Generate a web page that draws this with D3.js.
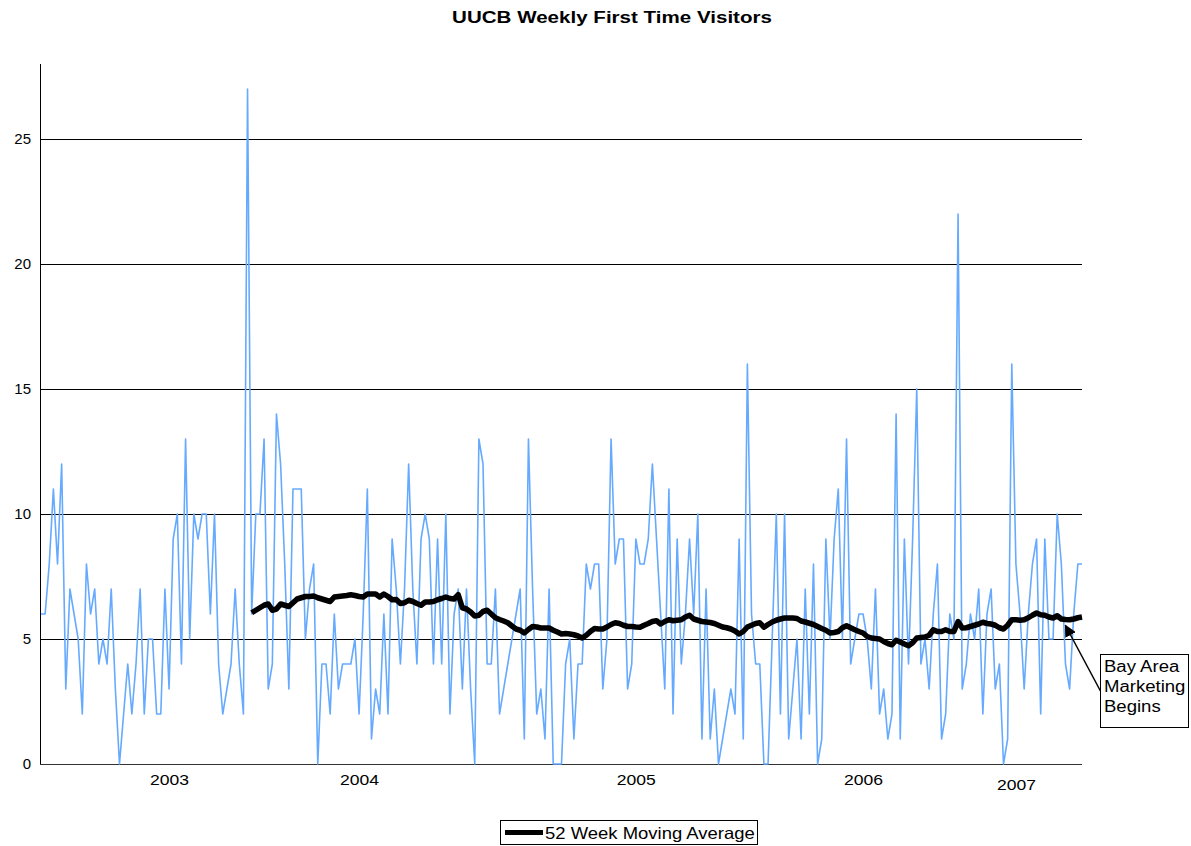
<!DOCTYPE html>
<html>
<head>
<meta charset="utf-8">
<script src="https://cdn.jsdelivr.net/npm/d3@7/dist/d3.min.js"></script>
<style>
    body { margin: 0; background: #fff; }
    text { font-family: "Liberation Sans", Arial, sans-serif; }
</style>
</head>
<body>
<div id="chart"></div>
<script>
//----------------------------
// Data
//----------------------------

// weekly first time visitors, one value per week
var visitors = [
    6, 6, 8, 11, 8, 12, 3, 7, 6, 5,
    2, 8, 6, 7, 4, 5, 4, 7, 3, 0,
    2, 4, 2, 4, 7, 2, 5, 5, 2, 2,
    7, 3, 9, 10, 4, 13, 5, 10, 9, 10,
    10, 6, 10, 4, 2, 3, 4, 7, 4, 2,
    27, 6, 10, 10, 13, 3, 4, 14, 12, 8,
    3, 11, 11, 11, 5, 7, 8, 0, 4, 4,
    2, 6, 3, 4, 4, 4, 5, 2, 6, 11,
    1, 3, 2, 6, 2, 9, 7, 4, 7, 12,
    7, 4, 9, 10, 9, 4, 9, 4, 10, 2,
    6, 7, 3, 7, 3, 0, 13, 12, 4, 4,
    7, 2, 3, 4, 5, 6, 7, 1, 13, 7,
    2, 3, 1, 7, 0, 0, 0, 4, 5, 1,
    4, 4, 8, 7, 8, 8, 3, 5, 13, 8,
    9, 9, 3, 4, 9, 8, 8, 9, 12, 9,
    6, 3, 11, 2, 9, 4, 6, 9, 6, 10,
    1, 7, 1, 3, 0, 1, 2, 3, 2, 9,
    1, 16, 6, 4, 4, 0, 0, 5, 10, 2,
    10, 1, 3, 5, 1, 7, 2, 8, 0, 1,
    9, 5, 9, 11, 5, 13, 4, 5, 6, 6,
    5, 3, 7, 2, 3, 1, 2, 14, 1, 9,
    4, 9, 15, 4, 5, 3, 6, 8, 1, 2,
    6, 5, 22, 3, 4, 6, 5, 7, 2, 6,
    7, 3, 4, 0, 1, 16, 8, 6, 3, 6,
    8, 9, 2, 9, 5, 5, 10, 8, 4, 3,
    6, 8, 8
];

// 52 week moving average, first value at week 51
var avgStartWeek = 51;
var movingAvg = [
    6.05, 6.15, 6.25, 6.35, 6.4, 6.15, 6.2, 6.4, 6.35, 6.3,
    6.45, 6.6, 6.65, 6.7, 6.7, 6.72, 6.65, 6.6, 6.55, 6.5,
    6.68, 6.7, 6.72, 6.74, 6.77, 6.74, 6.7, 6.68, 6.8, 6.8,
    6.8, 6.68, 6.8, 6.7, 6.57, 6.58, 6.42, 6.45, 6.55, 6.5,
    6.42, 6.35, 6.48, 6.48, 6.5, 6.57, 6.62, 6.68, 6.62, 6.6,
    6.77, 6.25, 6.2, 6.08, 5.92, 5.95, 6.1, 6.15, 6.0, 5.85,
    5.78, 5.72, 5.65, 5.52, 5.4, 5.35, 5.24, 5.38, 5.5, 5.48,
    5.44, 5.44, 5.44, 5.35, 5.28, 5.2, 5.22, 5.2, 5.17, 5.12,
    5.04, 5.15, 5.3, 5.42, 5.4, 5.4, 5.48, 5.58, 5.65, 5.62,
    5.55, 5.5, 5.5, 5.48, 5.47, 5.55, 5.62, 5.7, 5.73, 5.6,
    5.7, 5.77, 5.73, 5.75, 5.77, 5.88, 5.95, 5.8, 5.75, 5.7,
    5.68, 5.66, 5.62, 5.55, 5.48, 5.45, 5.4, 5.32, 5.2, 5.3,
    5.48, 5.55, 5.62, 5.65, 5.47, 5.58, 5.68, 5.75, 5.8, 5.84,
    5.84, 5.84, 5.82, 5.72, 5.68, 5.63, 5.58, 5.5, 5.42, 5.35,
    5.24, 5.26, 5.3, 5.45, 5.53, 5.45, 5.37, 5.3, 5.24, 5.1,
    5.04, 5.02, 5.0, 4.9, 4.82, 4.77, 4.95, 4.88, 4.8, 4.73,
    4.85, 5.04, 5.06, 5.08, 5.15, 5.37, 5.3, 5.3, 5.37, 5.3,
    5.3, 5.7, 5.44, 5.45, 5.5, 5.55, 5.6, 5.67, 5.62, 5.6,
    5.55, 5.45, 5.4, 5.55, 5.77, 5.77, 5.75, 5.77, 5.85, 5.95,
    6.04, 5.97, 5.95, 5.88, 5.84, 5.93, 5.8, 5.78, 5.77, 5.8,
    5.85, 5.88
];

var yearLabels = ["2003", "2004", "2005", "2006", "2007"];
var yearWeeks = [31, 77, 144, 199, 236];
var yTicks = [0, 5, 10, 15, 20, 25];

var titleText = "UUCB Weekly First Time Visitors";
var legendText = "52 Week Moving Average";
var noteLines = ["Bay Area", "Marketing", "Begins"];
var noteWeek = 248;

//----------------------------
// Setup
//----------------------------

var w = 1191;
var h = 846;
var plot = { left: 40, right: 1082, top: 64, bottom: 764 };

var svg = d3
    .select("#chart")
    .append("svg")
    .attr("width", w)
    .attr("height", h);

var x = d3
    .scaleLinear()
    .domain([0, visitors.length - 1])
    .range([plot.left + 1, plot.right]);

var y = d3
    .scaleLinear()
    .domain([0, 28])
    .range([plot.bottom, plot.top]);

// the original's text is a bit wider than plain Arial
function wideText(sel, tx, ty, sx) {
    sel.attr("transform", "translate(" + tx + "," + ty + ") scale(" + sx + ",1)");
}

//----------------------------
// Title
//----------------------------

svg.append("text")
    .attr("text-anchor", "middle")
    .attr("font-size", "17px")
    .attr("font-weight", "bold")
    .text(titleText)
    .call(wideText, 612, 23, 1.21);

//----------------------------
// Grid + axes
//----------------------------

svg.append("g")
    .selectAll("line")
    .data(yTicks.filter(d => d > 0))
    .enter()
    .append("line")
    .attr("x1", plot.left)
    .attr("x2", plot.right)
    .attr("y1", d => y(d))
    .attr("y2", d => y(d))
    .attr("stroke", "#000")
    .attr("stroke-width", 1)
    .attr("shape-rendering", "crispEdges");

var yAxis = svg.append("g")
    .attr("transform", "translate(" + plot.left + ",0)")
    .call(d3.axisLeft(y).tickValues(yTicks).tickSize(0).tickPadding(9));
yAxis.select(".domain")
    .attr("d", "M0," + plot.top + "V" + plot.bottom)
    .attr("stroke", "#000")
    .attr("shape-rendering", "crispEdges");
yAxis.selectAll("text")
    .attr("font-size", "15px")
    .attr("font-family", "Liberation Sans, Arial, sans-serif")
    .attr("fill", "#000");

var xAxis = svg.append("g")
    .attr("transform", "translate(0," + plot.bottom + ")")
    .call(d3.axisBottom(x)
        .tickValues(yearWeeks)
        .tickFormat((d, i) => yearLabels[i])
        .tickSize(0)
        .tickPadding(10));
xAxis.select(".domain")
    .attr("d", "M" + plot.left + ",0H" + plot.right)
    .attr("stroke", "#333")
    .attr("shape-rendering", "crispEdges");
xAxis.selectAll("text")
    .attr("font-size", "15px")
    .attr("font-family", "Liberation Sans, Arial, sans-serif")
    .attr("fill", "#000")
    .attr("transform", "scale(1.17,1)")
    .attr("dy", (d, i) => i == yearLabels.length - 1 ? "1.1em" : "0.71em");

//----------------------------
// Lines
//----------------------------

var weekLine = d3.line()
    .x((d, i) => x(i))
    .y(d => y(d));

svg.append("path")
    .datum(visitors)
    .attr("d", weekLine)
    .attr("fill", "none")
    .attr("stroke", "#66aaff")
    .attr("stroke-width", 1.6)
    .attr("stroke-linejoin", "round");

var avgLine = d3.line()
    .x((d, i) => x(i + avgStartWeek))
    .y(d => y(d));

svg.append("path")
    .datum(movingAvg)
    .attr("d", avgLine)
    .attr("fill", "none")
    .attr("stroke", "#000")
    .attr("stroke-width", 5.5)
    .attr("stroke-linejoin", "round");

//----------------------------
// Annotation
//----------------------------

svg.append("defs")
    .append("marker")
    .attr("id", "arrow")
    .attr("viewBox", "0 0 10 10")
    .attr("refX", 9)
    .attr("refY", 5)
    .attr("markerWidth", 8)
    .attr("markerHeight", 8)
    .attr("orient", "auto")
    .append("path")
    .attr("d", "M0,0L10,5L0,10Z")
    .attr("fill", "#000");

var tipX = x(noteWeek);
var tipY = y(movingAvg[noteWeek - avgStartWeek]) + 6;

svg.append("line")
    .attr("x1", 1101)
    .attr("y1", 692)
    .attr("x2", tipX)
    .attr("y2", tipY)
    .attr("stroke", "#000")
    .attr("stroke-width", 1.5)
    .attr("marker-end", "url(#arrow)");

svg.append("rect")
    .attr("x", 1100.5)
    .attr("y", 654.5)
    .attr("width", 88)
    .attr("height", 73)
    .attr("fill", "#fff")
    .attr("stroke", "#000");

svg.append("g")
    .selectAll("text")
    .data(noteLines)
    .enter()
    .append("text")
    .attr("font-size", "16px")
    .text(d => d)
    .each(function (d, i) {
        d3.select(this).call(wideText, 1104, 672 + i * 20, 1.16);
    });

//----------------------------
// Legend
//----------------------------

var legend = svg.append("g")
    .attr("transform", "translate(500,820)");

legend.append("rect")
    .attr("x", 0.5)
    .attr("y", 0.5)
    .attr("width", 257)
    .attr("height", 24)
    .attr("fill", "#fff")
    .attr("stroke", "#000");

legend.append("line")
    .attr("x1", 5)
    .attr("x2", 43)
    .attr("y1", 12.5)
    .attr("y2", 12.5)
    .attr("stroke", "#000")
    .attr("stroke-width", 5);

legend.append("text")
    .attr("font-size", "16.5px")
    .text(legendText)
    .call(wideText, 45, 18.5, 1.12);
</script>
</body>
</html>
